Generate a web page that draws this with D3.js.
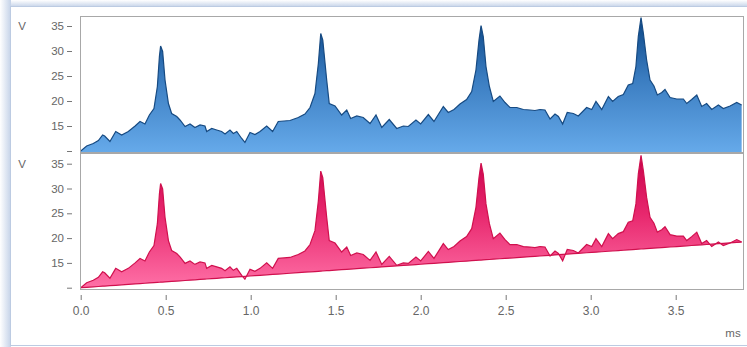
<!DOCTYPE html>
<html><head><meta charset="utf-8">
<script src="https://cdn.jsdelivr.net/npm/d3@7"></script>
<style>html,body{margin:0;padding:0;background:#fff;overflow:hidden}</style>
</head><body><svg id="c" width="747" height="347"></svg>
<script>
const times = [0,0.035,0.074,0.104,0.129,0.141,0.172,0.206,0.241,0.28,0.32,0.349,0.378,0.404,0.431,0.451,0.463,0.470,0.482,0.496,0.516,0.535,0.565,0.584,0.614,0.643,0.672,0.702,0.731,0.741,0.771,0.8,0.829,0.849,0.878,0.898,0.918,0.947,0.966,0.996,1.025,1.055,1.094,1.129,1.162,1.231,1.28,1.319,1.349,1.378,1.398,1.412,1.424,1.447,1.462,1.496,1.535,1.565,1.588,1.624,1.662,1.702,1.737,1.771,1.815,1.859,1.898,1.927,1.972,2.0,2.045,2.078,2.133,2.162,2.196,2.231,2.27,2.3,2.325,2.343,2.355,2.368,2.384,2.404,2.427,2.466,2.496,2.525,2.565,2.604,2.643,2.672,2.702,2.731,2.761,2.79,2.81,2.835,2.862,2.898,2.927,2.976,3.006,3.031,3.065,3.104,3.129,3.162,3.192,3.221,3.247,3.266,3.28,3.296,3.31,3.329,3.349,3.372,3.392,3.418,3.437,3.467,3.506,3.545,3.565,3.594,3.624,3.653,3.682,3.712,3.751,3.78,3.82,3.859,3.888];
const volts = [10,11.0,11.5,12.1,13.2,13.0,11.9,13.9,13.2,13.9,15.0,15.9,15.4,17.2,18.5,22.9,28.9,31.0,29.9,24.2,19.5,17.5,16.9,16.2,14.9,15.4,14.7,15.2,15.0,13.9,14.5,14.2,13.9,13.4,14.2,13.5,13.9,12.5,11.7,13.7,13.3,13.9,15.0,13.9,15.9,16.1,16.7,17.4,18.7,21.5,27.5,33.5,32.2,24.2,19.5,19.0,17.2,18.2,16.5,17.0,16.7,15.5,17.2,14.7,16.3,14.5,15.0,14.9,16.2,15.4,17.3,15.9,18.9,17.7,18.3,19.4,20.3,21.9,26.2,32.2,35.1,32.9,26.9,22.9,19.9,21.0,19.7,18.7,18.7,18.3,18.2,18.1,18.3,18.2,16.4,17.4,16.9,15.4,17.7,17.5,17.0,18.7,18.3,19.9,18.3,20.9,19.9,20.9,21.3,23.2,23.5,26.9,32.9,36.7,33.5,28.2,24.2,23.0,21.2,21.7,22.3,20.7,20.4,20.4,19.5,20.3,21.2,18.9,19.5,18.3,19.2,18.5,19.0,19.7,19.2];
const baselineTimes = [0, 3.888];
const baselineVolts = [10, 19.2];
const yTicks = [10,15,20,25,30,35];
const yTickLabels = ["","15","20","25","30","35"];
const xTicks = [0,0.5,1.0,1.5,2.0,2.5,3.0,3.5];
const yUnit = "V", xUnit = "ms";

const data = times.map((t,i)=>({t, v: volts[i]}));
const svg = d3.select("#c");
const font = "'Liberation Sans', Arial, sans-serif";

// panel frame
const defs = svg.append("defs");
const gTop = defs.append("linearGradient").attr("id","bandTop").attr("x1",0).attr("y1",0).attr("x2",0).attr("y2",1);
gTop.append("stop").attr("offset","0%").attr("stop-color","#ffffff");
gTop.append("stop").attr("offset","100%").attr("stop-color","#c4d2e8");
const gLeft = defs.append("linearGradient").attr("id","bandLeft").attr("x1",0).attr("y1",0).attr("x2",1).attr("y2",0);
gLeft.append("stop").attr("offset","0%").attr("stop-color","#ffffff");
gLeft.append("stop").attr("offset","100%").attr("stop-color","#c4d2e8");
svg.append("rect").attr("x",0).attr("y",0).attr("width",747).attr("height",7).attr("fill","url(#bandTop)");
svg.append("rect").attr("x",0).attr("y",0).attr("width",11).attr("height",347).attr("fill","url(#bandLeft)");
svg.append("rect").attr("x",10.5).attr("y",6.5).attr("width",740).attr("height",339).attr("fill","#fff").attr("stroke","#bccbe2");

const x = d3.scaleLinear().domain([0,3.5]).range([80.7, 675.7]);
const plotL = 80, plotR = 744;

const gradBlue = defs.append("linearGradient").attr("id","gBlue").attr("gradientUnits","userSpaceOnUse").attr("x1",0).attr("y1",16).attr("x2",0).attr("y2",153);
gradBlue.append("stop").attr("offset","0%").attr("stop-color","#0a4585");
gradBlue.append("stop").attr("offset","45%").attr("stop-color","#3a7cc0");
gradBlue.append("stop").attr("offset","100%").attr("stop-color","#66aaea");
const gradPink = defs.append("linearGradient").attr("id","gPink").attr("gradientUnits","userSpaceOnUse").attr("x1",0).attr("y1",153).attr("x2",0).attr("y2",290);
gradPink.append("stop").attr("offset","0%").attr("stop-color","#c8004a");
gradPink.append("stop").attr("offset","45%").attr("stop-color","#e8286e");
gradPink.append("stop").attr("offset","100%").attr("stop-color","#ff72a8");

function panel(top, bottom, y0px, y35px, kind){
  const y = d3.scaleLinear().domain([10,35]).range([y0px, y35px]);
  const g = svg.append("g");
  g.append("rect").attr("x",plotL+0.5).attr("y",top+0.5).attr("width",plotR-plotL-1).attr("height",bottom-top-1).attr("fill","#fff");
  const clipId = "clip"+kind;
  defs.append("clipPath").attr("id",clipId).append("rect").attr("x",plotL+1).attr("y",top+1).attr("width",plotR-plotL-2).attr("height",bottom-top-2);
  const inner = g.append("g").attr("clip-path",`url(#${clipId})`);
  if(kind==="blue"){
    const area = d3.area().x(d=>x(d.t)).y0(bottom).y1(d=>y(d.v));
    inner.append("path").datum(data).attr("d",area).attr("fill","url(#gBlue)");
    inner.append("path").datum(data).attr("d",d3.line().x(d=>x(d.t)).y(d=>y(d.v))).attr("fill","none").attr("stroke","#164a82").attr("stroke-width",1.2);
  } else {
    const bl = d3.scaleLinear().domain(baselineTimes).range(baselineVolts);
    const area = d3.area().x(d=>x(d.t)).y0(d=>y(bl(d.t))).y1(d=>y(d.v));
    inner.append("path").datum(data).attr("d",area).attr("fill","url(#gPink)");
    inner.append("path").datum(data).attr("d",d3.line().x(d=>x(d.t)).y(d=>y(d.v))).attr("fill","none").attr("stroke","#d0104e").attr("stroke-width",1.2);
    inner.append("path").datum(data).attr("d",d3.line().x(d=>x(d.t)).y(d=>y(bl(d.t)))).attr("fill","none").attr("stroke","#d0104e").attr("stroke-width",1.2);
  }
  g.append("rect").attr("x",plotL+0.5).attr("y",top+0.5).attr("width",plotR-plotL-1).attr("height",bottom-top-1).attr("fill","none").attr("stroke","#a8a8a8");
  // y axis
  const ax = d3.axisLeft(y).tickValues(yTicks).tickFormat((d,i)=>yTickLabels[i]).tickSize(5).tickPadding(3);
  const ag = svg.append("g").attr("transform","translate(72,0)").call(ax);
  ag.select(".domain").remove();
  ag.selectAll("line").attr("stroke","#777");
  ag.selectAll("text").attr("fill","#666").attr("font-family",font).attr("font-size",11.5);
  svg.append("text").attr("x",22).attr("y",y(35)+4).attr("text-anchor","middle").attr("fill","#666").attr("font-family",font).attr("font-size",11.5).text(yUnit);
}
panel(16, 153, 151, 26, "blue");
panel(153, 290, 287.7, 163.7, "pink");

const xa = d3.axisBottom(x).tickValues(xTicks).tickFormat(d3.format(".1f")).tickSize(5).tickPadding(6);
const xg = svg.append("g").attr("transform","translate(0,295)").call(xa);
xg.select(".domain").remove();
xg.selectAll("line").attr("stroke","#777");
xg.selectAll("text").attr("fill","#666").attr("font-family",font).attr("font-size",12);
svg.append("text").attr("x",733).attr("y",337).attr("text-anchor","middle").attr("fill","#666").attr("font-family",font).attr("font-size",11.5).text(xUnit);
</script></body></html>
